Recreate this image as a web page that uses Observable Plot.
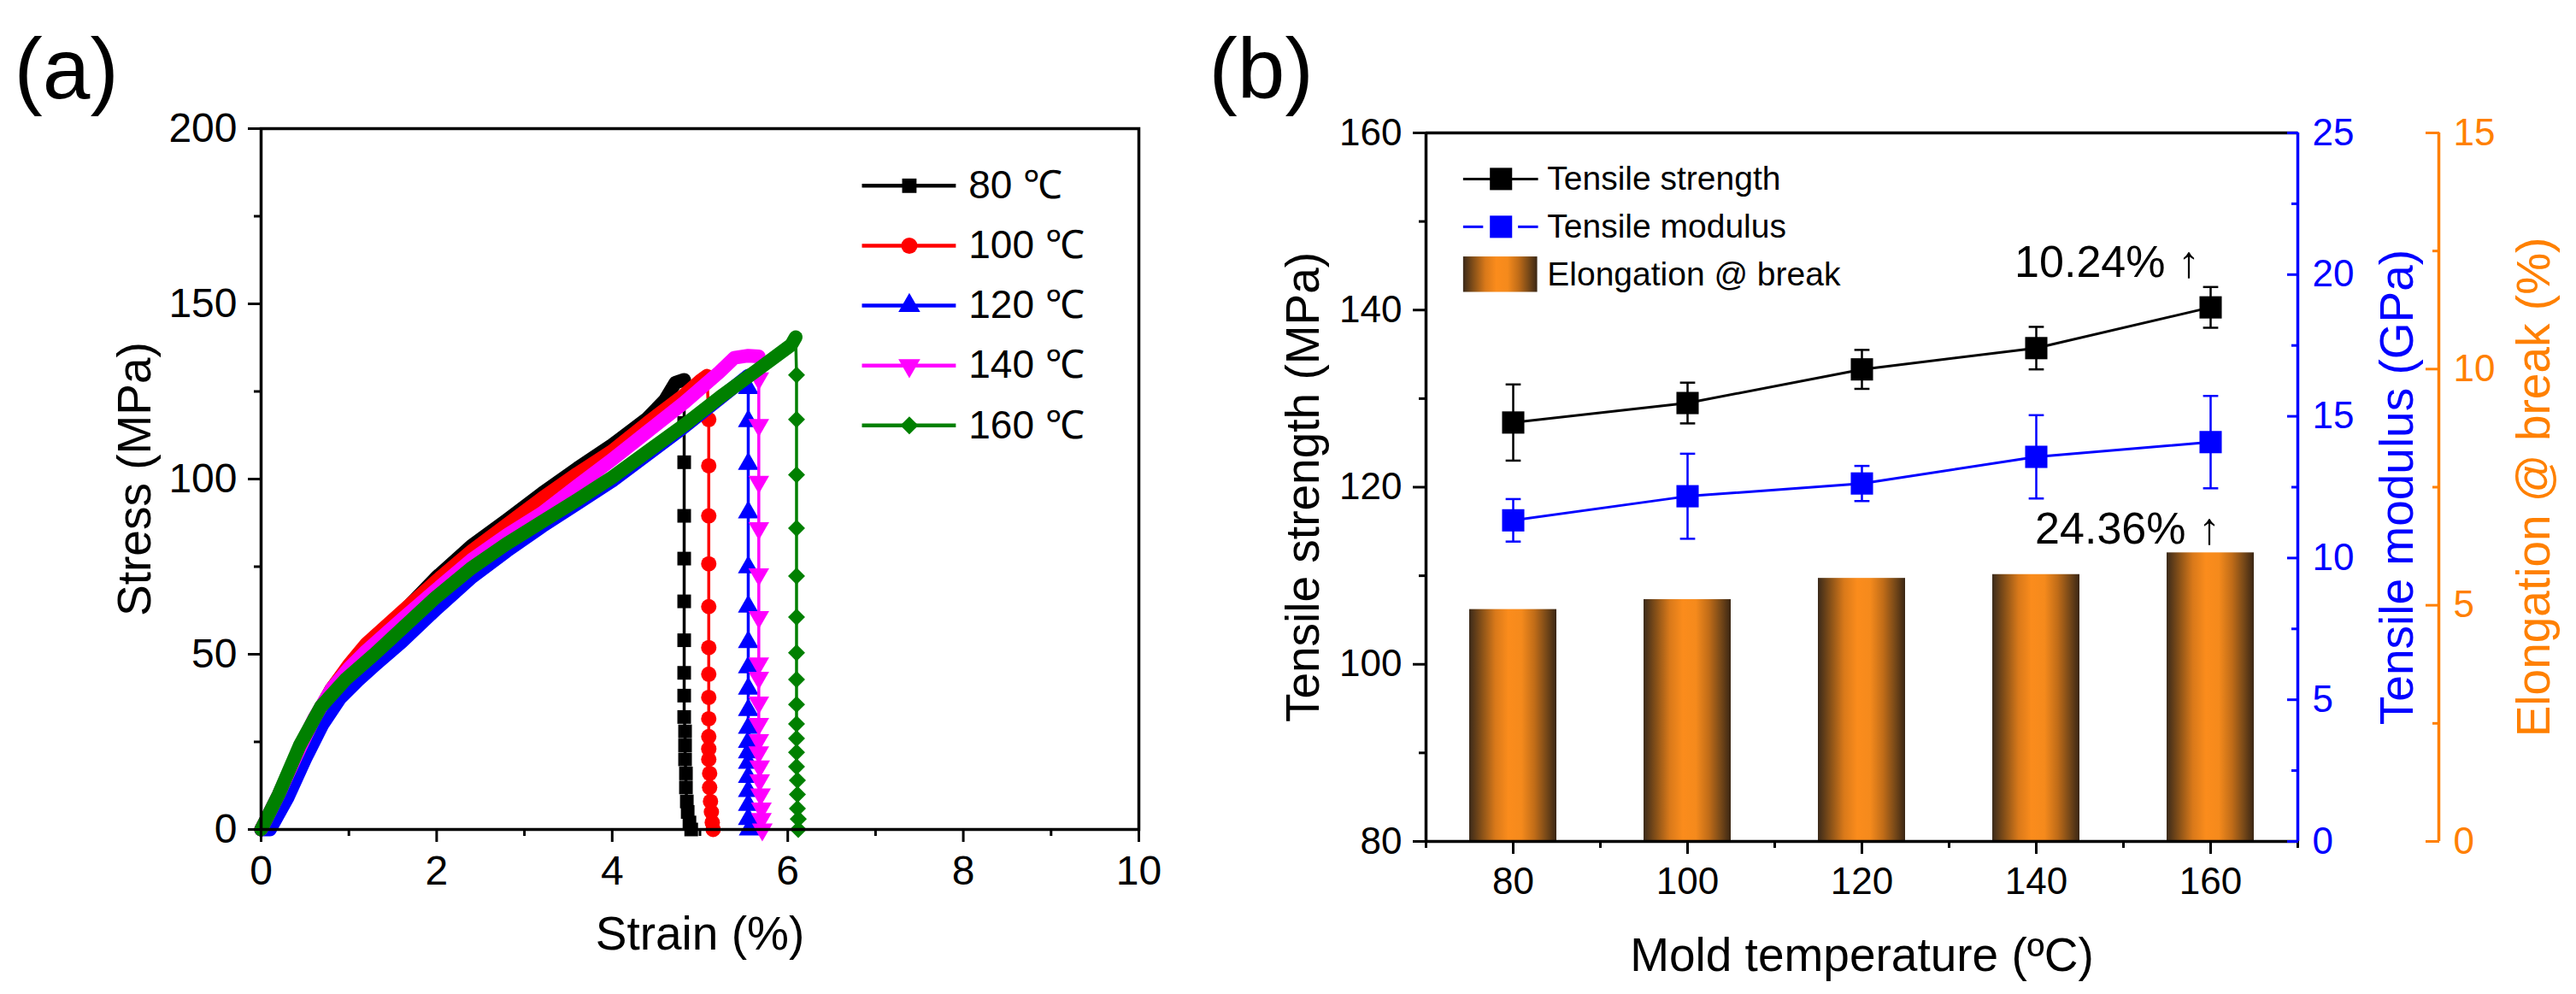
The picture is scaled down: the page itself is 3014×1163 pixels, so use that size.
<!DOCTYPE html>
<html><head><meta charset="utf-8">
<script src="https://cdn.jsdelivr.net/npm/d3@7"></script>
<script src="https://cdn.jsdelivr.net/npm/@observablehq/plot@0.6"></script>
<style>
body{margin:0;background:#fff;}
#wrap{position:relative;width:3014px;height:1163px;background:#fff;overflow:hidden;}
#pa{position:absolute;left:0;top:0;width:1450px;height:1163px;}
#pb{position:absolute;left:1450px;top:0;width:1564px;height:1163px;}
</style></head><body>
<svg width="0" height="0" style="position:absolute;left:0;top:0">
<defs>
<linearGradient id="barGrad" x1="0" x2="1" y1="0" y2="0">
<stop offset="0" stop-color="#3b2a1a"/>
<stop offset="0.15" stop-color="#8a5218"/>
<stop offset="0.3" stop-color="#d9791a"/>
<stop offset="0.45" stop-color="#fb8c1c"/>
<stop offset="0.6" stop-color="#f58a1c"/>
<stop offset="0.75" stop-color="#c06c18"/>
<stop offset="0.88" stop-color="#7a4a18"/>
<stop offset="1" stop-color="#3a2614"/>
</linearGradient>
</defs></svg>
<div id="wrap"><div id="pa"></div><div id="pb"></div></div>
<script>
// ---------- Panel (a) data: stress-strain curves ----------
const seriesNames = ["80 ℃", "100 ℃", "120 ℃", "140 ℃", "160 ℃"];
const seriesColors = ["#000000", "#ff0000", "#0000ff", "#ff00ff", "#008000"];
const seriesSymbols = ["square", "circle", "triangle", "triangle", "diamond2"];
const seriesRotate = [0, 0, 0, 180, 0];

const loadStrain80 = [0,0.2,0.4,0.6,0.8,1.0,1.2,1.5,2.0,2.4,2.8,3.2,3.6,4.0,4.4,4.6,4.72,4.82];
const loadStress80 = [0,9,20,31,40,46.5,52,59,72,81,88.3,95.9,103,109.7,117.3,122.5,127.5,128.3];
const dropStrain80 = [4.82,4.82,4.82,4.82,4.82,4.82,4.82,4.82,4.82,4.83,4.83,4.83,4.84,4.84,4.85,4.86,4.88,4.9];
const dropStress80 = [116,104.8,89.5,77.3,65.1,54,44.7,38.2,32.1,28,24,20,16,12,8,5,2,0];

const loadStrain100 = [0,0.2,0.4,0.6,0.8,1.0,1.2,1.6,2.0,2.4,2.8,3.2,3.6,4.0,4.4,4.82,5.0,5.08];
const loadStress100 = [0,9,20,31,40,47,53,62,71,79.5,87,94.5,101.5,108,116,124,128,129.5];
const dropStrain100 = [5.1,5.1,5.1,5.1,5.1,5.1,5.1,5.1,5.1,5.1,5.1,5.1,5.11,5.11,5.12,5.13,5.14,5.15];
const dropStress100 = [117,103.8,89.5,75.8,63.6,51.9,44.3,37.7,31.6,26.5,23,20,16,12,8,5,2,0];

const loadStrain120 = [0,0.1,0.3,0.5,0.7,0.9,1.1,1.3,1.6,2.0,2.4,2.8,3.2,3.6,4.0,4.4,4.8,5.2,5.45,5.55];
const loadStress120 = [0,0,9,20,30,37.5,42.5,47,53.5,63,72,79.5,86.5,93,99.5,107,114.5,122.5,127.5,129.5];
const dropStrain120 = [5.55,5.55,5.55,5.55,5.55,5.55,5.55,5.55,5.55,5.55,5.55,5.55,5.55,5.55,5.55,5.55,5.55,5.55,5.56];
const dropStress120 = [126,116.5,104.3,90.5,74.8,63.6,53.5,46.3,40.2,34.1,29,25,22,19,15,11,7,3,0];

const loadStrain140 = [0,0.2,0.4,0.6,0.8,1.0,1.2,1.6,2.0,2.4,2.8,3.2,3.6,4.0,4.4,4.82,5.22,5.39,5.55,5.67];
const loadStress140 = [0,10,21,31.5,40,46,51,59.9,68.5,77,84,90.3,98,105.6,113.5,121.8,130.5,134.6,135.2,135];
const dropStrain140 = [5.67,5.67,5.67,5.67,5.67,5.67,5.67,5.67,5.67,5.67,5.67,5.67,5.68,5.68,5.69,5.7,5.7,5.71];
const dropStress140 = [128.7,115.4,99.2,86,72.8,60.6,47.4,43.3,36.2,30.1,25.5,22,18,14,10,6,3,0];

const loadStrain160 = [0,0.2,0.44,0.68,0.97,1.29,1.57,1.98,2.39,2.79,3.2,3.6,4.0,4.41,4.82,5.23,5.63,6.04,6.09];
const loadStress160 = [0,10,24,35,43,50,56.5,66,74.5,81.4,87.8,94,100.5,108,115.4,123.4,130.7,138.3,140.5];
const dropStrain160 = [6.1,6.1,6.1,6.1,6.1,6.1,6.1,6.1,6.1,6.1,6.1,6.1,6.1,6.11,6.11,6.11,6.12,6.12];
const dropStress160 = [129.7,117,101.2,86,72.3,60.6,50.4,42.8,35.7,30.1,26,22,17.9,14,10,6,3,0];

const strainTicks = [0,2,4,6,8,10];
const strainMinor = [1,3,5,7,9];
const stressTicks = [0,50,100,150,200];
const stressMinor = [25,75,125,175];

// ---------- Panel (b) data ----------
const temps = [80,100,120,140,160];
const strength = [127.3,129.5,133.3,135.7,140.3];
const strengthErr = [4.3,2.3,2.2,2.4,2.3];
const modulus = [11.33,12.18,12.63,13.57,14.09];
const modulusErr = [0.75,1.5,0.62,1.47,1.63];
const elongation = [4.91,5.12,5.57,5.65,6.11];
const strengthTicks = [80,100,120,140,160];
const strengthMinor = [90,110,130,150];
const modulusTicks = [0,5,10,15,20,25];
const modulusMinor = [2.5,7.5,12.5,17.5,22.5];
const elongTicks = [0,5,10,15];
const elongMinor = [2.5,7.5,12.5];
const tempMinor = [70,90,110,130,150,170];

const FONT = "'Liberation Sans', Arial, Helvetica, sans-serif";

// ================= Panel (a) =================
const curves = [
  [loadStrain80, loadStress80, dropStrain80, dropStress80],
  [loadStrain100, loadStress100, dropStrain100, dropStress100],
  [loadStrain120, loadStress120, dropStrain120, dropStress120],
  [loadStrain140, loadStress140, dropStrain140, dropStress140],
  [loadStrain160, loadStress160, dropStrain160, dropStress160]
];
const curveMarks = curves.flatMap(([ls, lt, ds, dt], k) => {
  const load = ls.map((s, i) => ({strain: s, stress: lt[i]}));
  const drop = ds.map((s, i) => ({strain: s, stress: dt[i]}));
  const dropLine = [load[load.length - 1], ...drop];
  return [
    Plot.line(load, {x: "strain", y: "stress", stroke: seriesColors[k], strokeWidth: 16, strokeLinejoin: "round", strokeLinecap: "round"}),
    Plot.line(dropLine, {x: "strain", y: "stress", stroke: seriesColors[k], strokeWidth: 3.5}),
    Plot.dot(drop, {x: "strain", y: "stress", symbol: seriesSymbols[k], rotate: seriesRotate[k], r: 9, fill: seriesColors[k], stroke: "none"})
  ];
});

// legend layout (data units of panel a)
const legA = {x1: 6.85, x2: 7.92, xm: 7.385, xt: 8.06, y0: 183.7, step: 17.1};
const legIdx = d3.range(seriesNames.length);

const plotA = Plot.plot({
  width: 1450, height: 1163,
  marginLeft: 305, marginRight: 118, marginTop: 150, marginBottom: 193,
  style: {fontFamily: FONT, background: "transparent", overflow: "visible", color: "black"},
  x: {domain: [0, 10]},
  y: {domain: [0, 200]},
  color: {type: "identity"},
  marks: [
    ...curveMarks,
    Plot.frame({strokeWidth: 3.5}),
    Plot.axisX({ticks: strainTicks, tickSize: 15, tickPadding: 15, fontSize: 48, strokeWidth: 3, label: null}),
    Plot.axisX({ticks: strainMinor, tickSize: 8, tickFormat: () => "", strokeWidth: 3, label: null}),
    Plot.axisY({ticks: stressTicks, tickSize: 15, tickPadding: 13, fontSize: 48, strokeWidth: 3, label: null}),
    Plot.axisY({ticks: stressMinor, tickSize: 8, tickFormat: () => "", strokeWidth: 3, label: null}),
    Plot.text(["Strain (%)"], {frameAnchor: "bottom", dy: 123, fontSize: 55, textAnchor: "middle", lineAnchor: "middle"}),
    Plot.text(["Stress (MPa)"], {frameAnchor: "left", dx: -147, rotate: -90, fontSize: 55, textAnchor: "middle", lineAnchor: "middle"}),
    Plot.text(["(a)"], {frameAnchor: "top-left", dx: -289, dy: -68, textAnchor: "start", fontSize: 100, lineAnchor: "middle"}),
    // legend
    Plot.ruleY(legIdx, {y: i => legA.y0 - i * legA.step, x1: legA.x1, x2: legA.x2, stroke: i => seriesColors[i], strokeWidth: 4.5}),
    Plot.dot(legIdx, {x: legA.xm, y: i => legA.y0 - i * legA.step, symbol: i => seriesSymbols[i], rotate: i => seriesRotate[i], r: 9.5, fill: i => seriesColors[i], stroke: "none"}),
    Plot.text(legIdx, {x: legA.xt, y: i => legA.y0 - i * legA.step, text: i => seriesNames[i], textAnchor: "start", fontSize: 46, lineAnchor: "middle"})
  ]
});
document.getElementById("pa").appendChild(plotA);

// ================= Panel (b) =================
const yMin = 80, yMax = 160, xMin = 70, xMax = 170;
const modY = m => yMin + m * (yMax - yMin) / 25;
const elY = e => yMin + e * (yMax - yMin) / 15;
const invMod = v => +((v - yMin) * 25 / (yMax - yMin)).toFixed(2);
const invEl = v => +((v - yMin) * 15 / (yMax - yMin)).toFixed(2);
const capSymbol = {draw(ctx, size) { const w = Math.sqrt(size) / 2; ctx.moveTo(-w, 0); ctx.lineTo(w, 0); }};
const BLUE = "#0000ff", ORANGE = "#ff8000";
const idx = d3.range(temps.length);
const legB = {x1: 74.3, x2: 82.9, xm: 78.6, xt: 83.9, rows: [154.8, 149.4, 144.0]};

const plotB = Plot.plot({
  width: 1564, height: 1163,
  marginLeft: 218, marginRight: 326, marginTop: 155, marginBottom: 179,
  style: {fontFamily: FONT, background: "transparent", overflow: "visible", color: "black"},
  x: {domain: [xMin, xMax]},
  y: {domain: [yMin, yMax]},
  marks: [
    // bars: elongation at break (right orange axis)
    Plot.rectY(idx, {x1: i => temps[i] - 5, x2: i => temps[i] + 5, y1: yMin, y2: i => elY(elongation[i]), fill: "url(#barGrad)"}),
    // tensile modulus (blue axis)
    Plot.line(idx, {x: i => temps[i], y: i => modY(modulus[i]), stroke: BLUE, strokeWidth: 3}),
    Plot.ruleX(idx, {x: i => temps[i], y1: i => modY(modulus[i] - modulusErr[i]), y2: i => modY(modulus[i] + modulusErr[i]), stroke: BLUE, strokeWidth: 2.5}),
    Plot.dot(idx, {x: i => temps[i], y: i => modY(modulus[i] - modulusErr[i]), symbol: capSymbol, r: 10, stroke: BLUE, fill: "none", strokeWidth: 2.5}),
    Plot.dot(idx, {x: i => temps[i], y: i => modY(modulus[i] + modulusErr[i]), symbol: capSymbol, r: 10, stroke: BLUE, fill: "none", strokeWidth: 2.5}),
    Plot.dot(idx, {x: i => temps[i], y: i => modY(modulus[i]), symbol: "square", r: 14.7, fill: BLUE, stroke: "none"}),
    // tensile strength (left axis)
    Plot.line(idx, {x: i => temps[i], y: i => strength[i], stroke: "black", strokeWidth: 3}),
    Plot.ruleX(idx, {x: i => temps[i], y1: i => strength[i] - strengthErr[i], y2: i => strength[i] + strengthErr[i], stroke: "black", strokeWidth: 2.5}),
    Plot.dot(idx, {x: i => temps[i], y: i => strength[i] - strengthErr[i], symbol: capSymbol, r: 10, stroke: "black", fill: "none", strokeWidth: 2.5}),
    Plot.dot(idx, {x: i => temps[i], y: i => strength[i] + strengthErr[i], symbol: capSymbol, r: 10, stroke: "black", fill: "none", strokeWidth: 2.5}),
    Plot.dot(idx, {x: i => temps[i], y: i => strength[i], symbol: "square", r: 14.7, fill: "black", stroke: "none"}),
    // annotations
    Plot.text(["10.24% ↑"], {x: temps[4], y: strength[4], dx: -121, dy: -52, fontSize: 52, lineAnchor: "middle"}),
    Plot.text(["24.36% ↑"], {x: temps[4], y: elY(elongation[4]), dx: -97, dy: -27, fontSize: 52, lineAnchor: "middle"}),
    // frame lines
    Plot.ruleY([yMin], {stroke: "black", strokeWidth: 3.5}),
    Plot.ruleY([yMax], {stroke: "black", strokeWidth: 3.5}),
    Plot.ruleX([xMin], {stroke: "black", strokeWidth: 3.5}),
    Plot.ruleX([xMax], {stroke: BLUE, strokeWidth: 3.5}),
    Plot.ruleX([xMax], {dx: 165, stroke: ORANGE, strokeWidth: 3.5}),
    // axes
    Plot.axisX({ticks: temps, tickSize: 15, tickPadding: 15, fontSize: 44, strokeWidth: 3, label: null}),
    Plot.axisX({ticks: tempMinor, tickSize: 8, tickFormat: () => "", strokeWidth: 3, label: null}),
    Plot.axisY({ticks: strengthTicks, tickSize: 15, tickPadding: 13, fontSize: 44, strokeWidth: 3, label: null}),
    Plot.axisY({ticks: strengthMinor, tickSize: 8, tickFormat: () => "", strokeWidth: 3, label: null}),
    Plot.axisY({anchor: "right", ticks: modulusTicks.map(modY), tickFormat: invMod, color: BLUE, tickSize: -13, tickPadding: 30, fontSize: 44, strokeWidth: 3, label: null}),
    Plot.axisY({anchor: "right", ticks: modulusMinor.map(modY), tickFormat: () => "", color: BLUE, tickSize: -8, strokeWidth: 3, label: null}),
    Plot.axisY({anchor: "right", dx: 165, ticks: elongTicks.map(elY), tickFormat: invEl, color: ORANGE, tickSize: -16, tickPadding: 33, fontSize: 44, strokeWidth: 3, label: null}),
    Plot.axisY({anchor: "right", dx: 165, ticks: elongMinor.map(elY), tickFormat: () => "", color: ORANGE, tickSize: -8, strokeWidth: 3, label: null}),
    // titles
    Plot.text(["Mold temperature (ºC)"], {frameAnchor: "bottom", dy: 134, fontSize: 55, textAnchor: "middle", lineAnchor: "middle"}),
    Plot.text(["Tensile strength (MPa)"], {frameAnchor: "left", dx: -143, rotate: -90, fontSize: 55, textAnchor: "middle", lineAnchor: "middle"}),
    Plot.text(["Tensile modulus (GPa)"], {frameAnchor: "right", dx: 117, rotate: -90, fontSize: 55, textAnchor: "middle", lineAnchor: "middle", fill: BLUE}),
    Plot.text(["Elongation @ break (%)"], {frameAnchor: "right", dx: 277, rotate: -90, fontSize: 55, textAnchor: "middle", lineAnchor: "middle", fill: ORANGE}),
    Plot.text(["(b)"], {frameAnchor: "top-left", dx: -254, dy: -73, textAnchor: "start", fontSize: 100, lineAnchor: "middle"}),
    // legend
    Plot.ruleY([legB.rows[0]], {x1: legB.x1, x2: legB.x2, stroke: "black", strokeWidth: 3}),
    Plot.dot([legB.rows[0]], {x: legB.xm, y: d => d, symbol: "square", r: 14.7, fill: "black", stroke: "none"}),
    Plot.ruleY([legB.rows[1]], {x1: legB.x1, x2: 76.6, stroke: BLUE, strokeWidth: 3}),
    Plot.ruleY([legB.rows[1]], {x1: 80.6, x2: legB.x2, stroke: BLUE, strokeWidth: 3}),
    Plot.dot([legB.rows[1]], {x: legB.xm, y: d => d, symbol: "square", r: 14.7, fill: BLUE, stroke: "none"}),
    Plot.rect([legB.rows[2]], {x1: legB.x1, x2: 82.8, y1: d => d - 2, y2: d => d + 2, fill: "url(#barGrad)"}),
    Plot.text(["Tensile strength", "Tensile modulus", "Elongation @ break"], {x: legB.xt, y: (d, i) => legB.rows[i], textAnchor: "start", fontSize: 39, lineAnchor: "middle"})
  ]
});
document.getElementById("pb").appendChild(plotB);
</script>
</body></html>
